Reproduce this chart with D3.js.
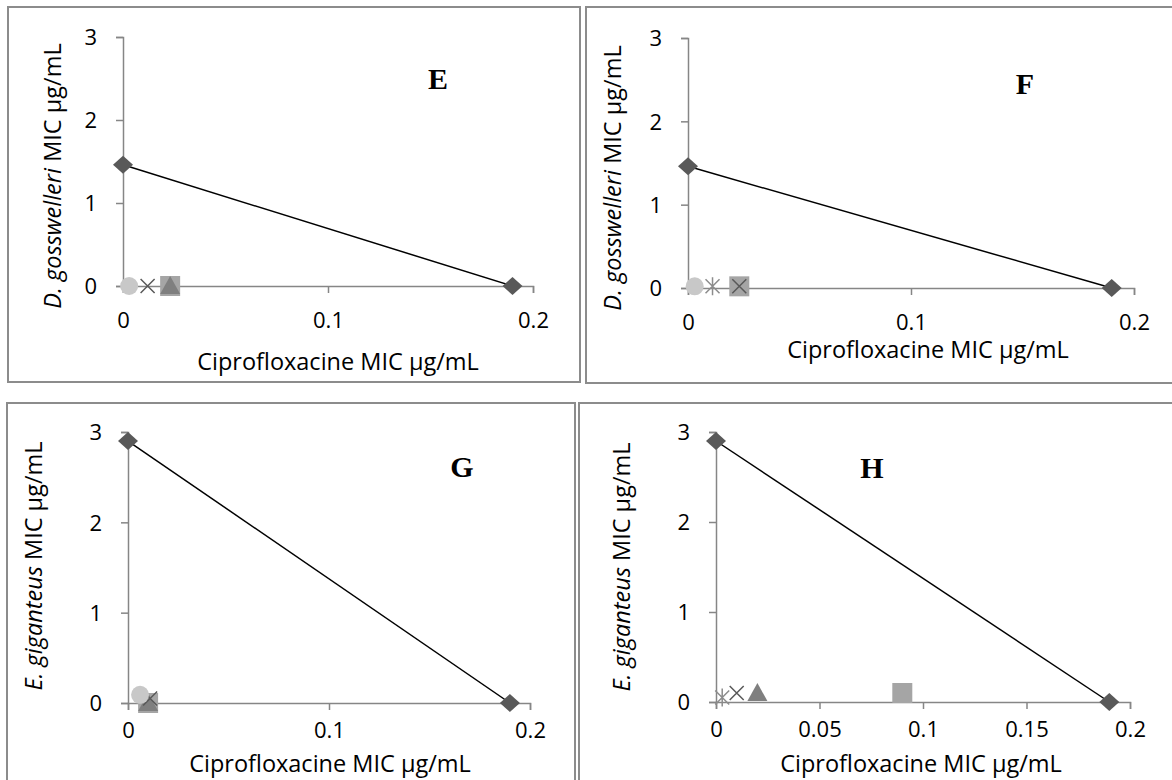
<!DOCTYPE html>
<html>
<head>
<meta charset="utf-8">
<script src="https://cdn.jsdelivr.net/npm/d3@7"></script>
<style>
  body { margin: 0; background: #fff; }
  svg { display: block; }
  .tick text { font-family: "Open Sans", sans-serif; font-size: 22px; fill: #000; }
  .axis-title { font-family: "Open Sans", sans-serif; font-size: 23.5px; fill: #000; }
  .panel-letter { font-family: "Liberation Serif", "Times New Roman", serif; font-weight: bold; font-size: 30px; }
</style>
</head>
<body>
<svg id="chart" width="1172" height="780"></svg>
<script>
// Isobologram: FIC line between the two single-agent MICs
const ciproMIC = [0, 0.19];
const dgossMIC = [1.46, 0];
const egigMIC = [2.9, 0];

const yTicks = [0, 1, 2, 3];
const xTicksWide = [0, 0.1, 0.2];
const xTicksFine = [0, 0.05, 0.1, 0.15, 0.2];

// Combination points (x = ciprofloxacine, y = extract), per panel
const seriesKeys = ["square", "triangle", "cross", "asterisk", "circle"];

const pointsE = [
    { s: "square", x: 0.023, y: 0 },
    { s: "triangle", x: 0.023, y: 0 },
    { s: "cross", x: 0.012, y: 0 },
    { s: "circle", x: 0.003, y: 0 }
];
const pointsF = [
    { s: "square", x: 0.023, y: 0.02 },
    { s: "cross", x: 0.023, y: 0.02 },
    { s: "asterisk", x: 0.011, y: 0.02 },
    { s: "circle", x: 0.003, y: 0.02 }
];
const pointsG = [
    { s: "square", x: 0.01, y: 0 },
    { s: "triangle", x: 0.01, y: 0 },
    { s: "cross", x: 0.011, y: 0.05 },
    { s: "circle", x: 0.006, y: 0.09 }
];
const pointsH = [
    { s: "square", x: 0.09, y: 0.1 },
    { s: "triangle", x: 0.02, y: 0.1 },
    { s: "cross", x: 0.01, y: 0.1 },
    { s: "asterisk", x: 0.003, y: 0.05 }
];

const svg = d3.select("#chart");
const axisColor = "#868686";

// marker shapes (Excel style)
const shapes = {
    diamond: { draw(c) { c.moveTo(0, -9); c.lineTo(10, 0); c.lineTo(0, 9); c.lineTo(-10, 0); c.closePath(); } },
    square: { draw(c) { c.rect(-10, -10, 20, 20); } },
    triangle: { draw(c) { c.moveTo(0, -10); c.lineTo(10, 8); c.lineTo(-10, 8); c.closePath(); } },
    circle: { draw(c) { c.moveTo(9, 0); c.arc(0, 0, 9, 0, 2 * Math.PI); } },
    cross: { draw(c) { c.moveTo(-7, -7); c.lineTo(7, 7); c.moveTo(7, -7); c.lineTo(-7, 7); } },
    asterisk: { draw(c) { c.moveTo(-7, -7); c.lineTo(7, 7); c.moveTo(7, -7); c.lineTo(-7, 7); c.moveTo(0, -9); c.lineTo(0, 9); } }
};
const markerStyle = {
    square: { fill: "#A5A5A5", stroke: "none" },
    triangle: { fill: "#7F7F7F", stroke: "none" },
    cross: { fill: "none", stroke: "#595959" },
    asterisk: { fill: "none", stroke: "#8C8C8C" },
    circle: { fill: "#C8C8C8", stroke: "none" }
};

const panels = [
    { box: [8, 7, 572, 375], x: [123, 533], y: [286, 37], xTicks: xTicksWide, pad: 19,
      iso: dgossMIC, pts: pointsE, genus: "D. gosswelleri", letter: "E", letterPos: [438, 78],
      xTitle: [338, 362], yTitle: [53, 176] },
    { box: [586, 7, 600, 376], x: [688, 1134], y: [288, 38], xTicks: xTicksWide, pad: 19,
      iso: dgossMIC, pts: pointsF, genus: "D. gosswelleri", letter: "F", letterPos: [1025, 83],
      xTitle: [928, 350], yTitle: [613, 178] },
    { box: [7, 403, 568, 400], x: [128, 530], y: [703, 432], xTicks: xTicksWide, pad: 12,
      iso: egigMIC, pts: pointsG, genus: "E. giganteus", letter: "G", letterPos: [462, 466],
      xTitle: [330, 764], yTitle: [34, 566] },
    { box: [579, 403, 600, 400], x: [716, 1130], y: [702, 432], xTicks: xTicksFine, pad: 12,
      iso: egigMIC, pts: pointsH, genus: "E. giganteus", letter: "H", letterPos: [872, 467],
      xTitle: [921, 764], yTitle: [622, 567] }
];

panels.forEach(p => {
    const g = svg.append("g");

    g.append("rect")
        .attr("x", p.box[0]).attr("y", p.box[1])
        .attr("width", p.box[2]).attr("height", p.box[3])
        .attr("fill", "none").attr("stroke", "#8C8C8C").attr("stroke-width", 2);

    const x = d3.scaleLinear().domain([0, 0.2]).range(p.x);
    const y = d3.scaleLinear().domain([0, 3]).range(p.y);

    const xAxis = g.append("g")
        .attr("transform", `translate(0,${p.y[0]})`)
        .call(d3.axisBottom(x).tickValues(p.xTicks).tickFormat(d3.format("~g")).tickSize(7).tickPadding(p.pad));
    const yAxis = g.append("g")
        .attr("transform", `translate(${p.x[0]},0)`)
        .call(d3.axisLeft(y).tickValues(yTicks).tickFormat(d3.format("d")).tickSize(7).tickPadding(19));

    [xAxis, yAxis].forEach(a => {
        a.select(".domain").attr("stroke", axisColor).attr("stroke-width", 1.5);
        a.selectAll(".tick line").attr("stroke", axisColor).attr("stroke-width", 1.5);
    });
    yAxis.selectAll(".tick text").attr("dy", "0.36em");

    // isobole line + diamonds
    const iso = ciproMIC.map((c, i) => ({ x: c, y: p.iso[i] }));
    g.append("path")
        .datum(iso)
        .attr("fill", "none").attr("stroke", "#000").attr("stroke-width", 1.5)
        .attr("d", d3.line().x(d => x(d.x)).y(d => y(d.y)));
    g.selectAll(".dia").data(iso).enter().append("path")
        .attr("transform", d => `translate(${x(d.x)},${y(d.y)})`)
        .attr("d", d3.symbol().type(shapes.diamond))
        .attr("fill", "#595959");

    // combination points, drawn in series order
    const pts = p.pts.slice().sort((a, b) => seriesKeys.indexOf(a.s) - seriesKeys.indexOf(b.s));
    g.selectAll(".pt").data(pts).enter().append("path")
        .attr("transform", d => `translate(${x(d.x)},${y(d.y)})`)
        .attr("d", d => d3.symbol().type(shapes[d.s])())
        .attr("fill", d => markerStyle[d.s].fill)
        .attr("stroke", d => markerStyle[d.s].stroke)
        .attr("stroke-width", 1.5);

    // titles
    g.append("text").attr("class", "axis-title")
        .attr("x", p.xTitle[0]).attr("y", p.xTitle[1])
        .attr("text-anchor", "middle").attr("dy", "0.35em")
        .text("Ciprofloxacine MIC µg/mL");

    const yt = g.append("text").attr("class", "axis-title")
        .attr("transform", `translate(${p.yTitle[0]},${p.yTitle[1]}) rotate(-90)`)
        .attr("text-anchor", "middle").attr("dy", "0.35em");
    yt.append("tspan").attr("font-style", "italic").text(p.genus);
    yt.append("tspan").text(" MIC µg/mL");

    g.append("text").attr("class", "panel-letter")
        .attr("x", p.letterPos[0]).attr("y", p.letterPos[1])
        .attr("text-anchor", "middle").attr("dy", "0.35em")
        .text(p.letter);
});
</script>
</body>
</html>
